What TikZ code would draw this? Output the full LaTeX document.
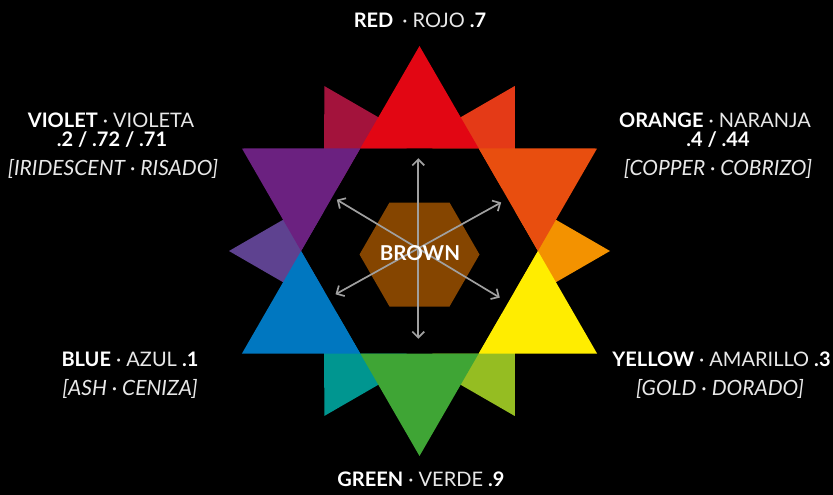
\documentclass[tikz,border=0pt]{standalone}
\usepackage{fontspec}
\setmainfont{Lato}
\usetikzlibrary{arrows.meta}
\definecolor{cRed}{HTML}{E20613}
\definecolor{cOrange}{HTML}{E84E0F}
\definecolor{cYellow}{HTML}{FFED00}
\definecolor{cGreen}{HTML}{3FA535}
\definecolor{cBlue}{HTML}{0077C0}
\definecolor{cViolet}{HTML}{6B2180}
\definecolor{cMagenta}{HTML}{A3133C}
\definecolor{cRedOrange}{HTML}{E43A17}
\definecolor{cOrangeYellow}{HTML}{F39200}
\definecolor{cYellowGreen}{HTML}{95BD22}
\definecolor{cTeal}{HTML}{009690}
\definecolor{cBlueViolet}{HTML}{5E4290}
\definecolor{cBrown}{HTML}{854500}
\definecolor{arrowgrey}{HTML}{A0A0A0}
\definecolor{lightwhite}{HTML}{E8E8E8}
\newcommand\lightpart[1]{{\color{lightwhite}#1}}
\begin{document}
\begin{tikzpicture}[x=1pt,y=-1pt,
  lbl/.style={text=white,inner sep=0pt,anchor=base,font=\fontsize{20}{23}\selectfont},
  itlbl/.style={lbl,font=\fontsize{21}{24}\selectfont\itshape},
  brownlbl/.style={text=white,inner sep=0pt,font=\fontsize{20.5}{24}\selectfont\bfseries},
  arr/.style={draw=arrowgrey,line width=1.7pt,
    {Straight Barb[length=6pt,width=12pt]}-{Straight Barb[length=6pt,width=12pt]}}]
\fill[black] (0,0) rectangle (833,495);
\useasboundingbox (0,0) rectangle (833,495);

\begin{scope}[shift={(419.5,251)}]
  % small hexagram points (second star)
  \fill[cOrangeYellow] (0:190.5) -- (-30:110) -- (30:110) -- cycle;
  \fill[cRedOrange] (-60:190.5) -- (-30:110) -- (-90:110) -- cycle;
  \fill[cMagenta] (-120:190.5) -- (-90:110) -- (-150:110) -- cycle;
  \fill[cBlueViolet] (180:190.5) -- (150:110) -- (210:110) -- cycle;
  \fill[cTeal] (120:190.5) -- (90:110) -- (150:110) -- cycle;
  \fill[cYellowGreen] (60:190.5) -- (30:110) -- (90:110) -- cycle;
  % central hexagon
  \fill[black] (0:118.4) -- (60:118.4) -- (120:118.4) -- (180:118.4) -- (240:118.4) -- (300:118.4) -- cycle;
  % large hexagram points
  \fill[cRed] (-90:205) -- (-60:118.4) -- (-120:118.4) -- cycle;
  \fill[cOrange] (-30:205) -- (-60:118.4) -- (0:118.4) -- cycle;
  \fill[cYellow] (30:205) -- (0:118.4) -- (60:118.4) -- cycle;
  \fill[cGreen] (90:205) -- (60:118.4) -- (120:118.4) -- cycle;
  \fill[cBlue] (150:205) -- (120:118.4) -- (180:118.4) -- cycle;
  \fill[cViolet] (210:205) -- (180:118.4) -- (240:118.4) -- cycle;
\end{scope}

% brown hexagon
\fill[cBrown] (479.5,254.5) -- (449.5,306.5) -- (389.5,306.5) -- (359.5,254.5) -- (389.5,202.5) -- (449.5,202.5) -- cycle;

% arrows
\coordinate (vTop) at (418.3,158.2);
\coordinate (vBot) at (418.3,338.8);
\coordinate (dUL) at (336.8,199.7);
\coordinate (dLR) at (499.8,297.6);
\coordinate (dUR) at (501.2,202.4);
\coordinate (dLL) at (335.5,294.3);
\draw[arr] (vTop) -- (vBot);
\draw[arr] (dUL) -- (dLR);
\draw[arr] (dUR) -- (dLL);

\node[brownlbl] (brown) at (420,253) {BROWN};

% labels
\node[lbl] (red) at (420,27.5) {\textbf{RED}\hspace{0.45em}\lightpart{· ROJO} \textbf{.7}};

\node[lbl] (violet1) at (111,127) {\textbf{VIOLET} \lightpart{· VIOLETA}};
\node[lbl] (violet2) at (112,146.5) {\textbf{.2 / .72 / .71}};
\node[itlbl] (violet3) at (113,175) {\lightpart{[IRIDESCENT · RISADO]}};

\node[lbl] (orange1) at (715,127) {\textbf{ORANGE} \lightpart{· NARANJA}};
\node[lbl] (orange2) at (718,146.5) {\textbf{.4 / .44}};
\node[itlbl] (orange3) at (718,175) {\lightpart{[COPPER · COBRIZO]}};

\node[lbl] (blue1) at (130,366.7) {\textbf{BLUE} \lightpart{· AZUL} \textbf{.1}};
\node[itlbl] (blue2) at (130,395) {\lightpart{[ASH · CENIZA]}};

\node[lbl] (yellow1) at (721.5,366.7) {\textbf{YELLOW} \lightpart{· AMARILLO} \textbf{.3}};
\node[itlbl] (yellow2) at (720,395) {\lightpart{[GOLD · DORADO]}};

\node[lbl] (green) at (421,486.7) {\textbf{GREEN} \lightpart{· VERDE} \textbf{.9}};
\end{tikzpicture}
\end{document}
